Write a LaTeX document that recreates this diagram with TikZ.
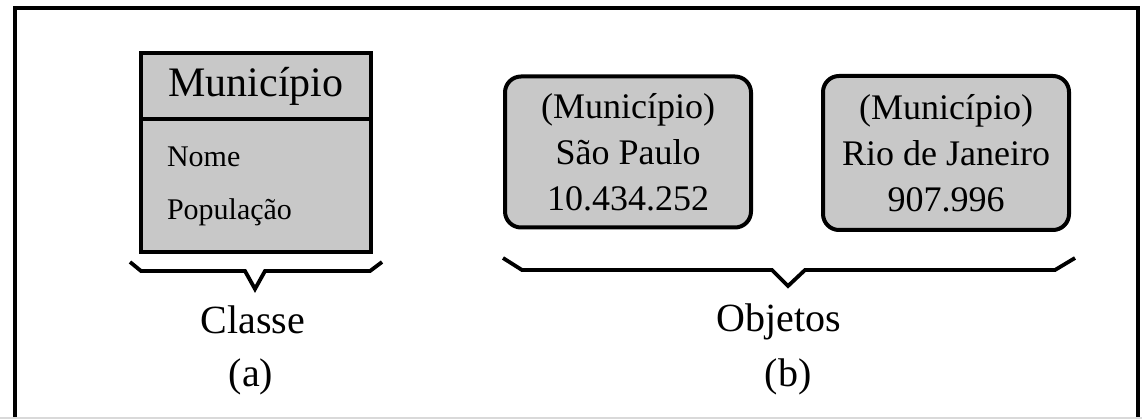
\documentclass[tikz,border=0pt]{standalone}
\usepackage{fontspec}
\setmainfont{Liberation Serif}
\definecolor{boxgray}{RGB}{200,200,200}
\tikzset{
  every node/.style={inner sep=0pt, outer sep=0pt},
  frameline/.style={line width=4pt, black},
  classpart/.style={draw, line width=4pt, fill=boxgray, minimum width=230pt},
  objbox/.style={draw, line width=4pt, fill=boxgray, rounded corners=16pt,
    minimum width=246pt, minimum height=151pt, align=center,
    font=\fontsize{36}{46}\selectfont},
  attr/.style={anchor=west, font=\fontsize{30}{36}\selectfont},
  label/.style={font=\fontsize{40}{48}\selectfont},
  bracel/.style={line width=3.8pt, line join=miter},
}
\begin{document}
\begin{tikzpicture}[x=1pt, y=-1pt]
  \useasboundingbox (0,0) rectangle (1142,419);
  \clip (0,0) rectangle (1142,419);
  \fill[white] (0,0) rectangle (1142,419);
  % outer frame
  \draw[frameline] (15,440) -- (15,8) -- (1138,8) -- (1138,440);
  \draw[gray!30, line width=1.5pt] (0,418) -- (1142,418);

  % class box
  \node[classpart, minimum height=66pt, font=\fontsize{42}{48}\selectfont] (head) at (256,86) {Município};
  \node[classpart, minimum height=133pt, anchor=north] (body) at (head.south) {};
  \node[attr] (nome) at (167,157) {Nome};
  \node[attr] (pop) at (167,212) {População};

  % class brace
  \draw[bracel] (130,262) -- (141,271) -- (245,271) -- (255,289) -- (265,271) -- (370,271) -- (382,262);
  \node[label] (classe) at (253,320) {Classe};
  \node[label] (a) at (251,377) {(a)};

  % object boxes
  \node[objbox] (sp) at (628,152) {(Município)\\São Paulo\\10.434.252};
  \node[objbox, minimum height=154pt] (rj) at (946,153) {(Município)\\Rio de Janeiro\\907.996};

  % objects brace
  \draw[bracel] (503,258) -- (522,270) -- (772,270) -- (788,286) -- (805,270) -- (1055,270) -- (1075,258);
  \node[label] (obj) at (779,322) {Objetos};
  \node[label] (b) at (788,377) {(b)};
\end{tikzpicture}
\end{document}
